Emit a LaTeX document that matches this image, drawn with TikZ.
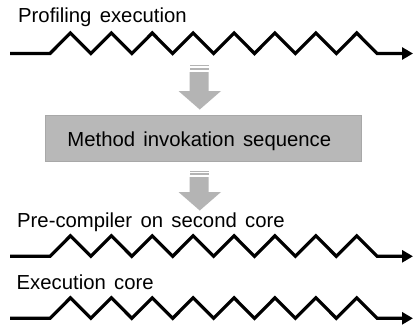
\documentclass[tikz,border=0pt]{standalone}
\usepackage{fontspec}
\setmainfont{Liberation Sans}
\usetikzlibrary{arrows.meta}
\definecolor{arrowgray}{HTML}{B4B4B4}
\definecolor{boxgray}{HTML}{B8B8B8}
\definecolor{boxedge}{HTML}{A8A8A8}
\newcommand{\lblfont}{\fontsize{20.3}{24}\selectfont\spaceskip=8.3pt\relax}
\tikzset{
  flow/.style={line width=3.2pt, black, miter limit=10, -{Triangle[length=11pt,width=12pt]}},
  lbl/.style={anchor=base west, inner sep=0pt, font=\lblfont},
  seqbox/.style={fill=boxgray, draw=boxedge, line width=0.6pt},
  grayarrow/.style={fill=arrowgray, draw=none}
}
\begin{document}
\begin{tikzpicture}[x=1pt,y=-1pt]
\useasboundingbox[fill=white] (0,0) rectangle (416,327);
% labels
\node[lbl] (t1) at (18,22.7) {Profiling execution};
\node[lbl] (t2) at (17,227.4) {Pre-compiler on second core};
\node[lbl] (t3) at (16.5,289) {Execution core};
% timelines
\foreach \n/\y in {a/53.5, b/256.3, c/318.3}{
  \coordinate (\n s) at (10,\y);
  \coordinate (\n e) at (413,\y);
  \draw[flow] (\n s) -- ++(40,0)
    \foreach \i in {1,...,8}{ -- ++(20.45,-20.5) -- ++(20.45,20.5)} -- (\n e);
}
% box
\draw[seqbox] (45,115) rectangle (361.5,161.7);
\node[anchor=base, inner sep=0pt, font=\lblfont] (box) at (199.3,146.7) {Method invokation sequence};
% arrow 1
\fill[grayarrow] (189.5,65) rectangle (208.5,66.3);
\fill[grayarrow] (189.5,68) rectangle (208.5,70.3);
\fill[grayarrow] (189.5,72) -- (208.5,72) -- (208.5,91) -- (221,91) -- (199.75,109.5) -- (178.5,91) -- (189.5,91) -- cycle;
% arrow 2
\fill[grayarrow] (189.5,170.5) rectangle (208.5,171.8);
\fill[grayarrow] (189.5,173.3) rectangle (208.5,175.3);
\fill[grayarrow] (189.5,177.2) -- (208.5,177.2) -- (208.5,192) -- (221,192) -- (199.75,210.5) -- (178.5,192) -- (189.5,192) -- cycle;
\end{tikzpicture}
\end{document}
